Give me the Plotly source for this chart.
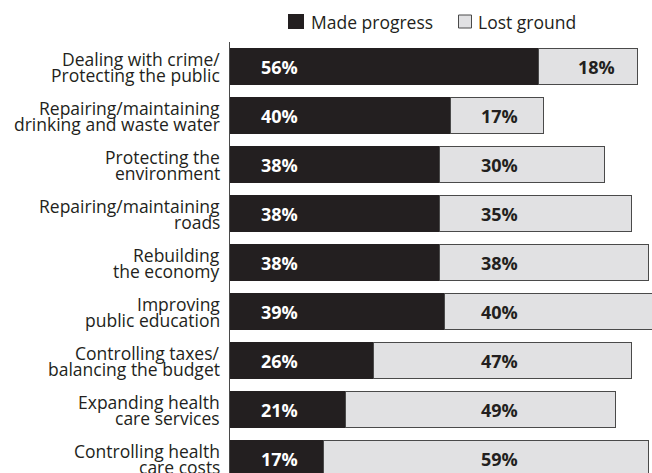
import plotly.graph_objects as go

# Survey results: share saying the state "made progress" vs "lost ground"
categories = [
    "Dealing with crime/<br>Protecting the public",
    "Repairing/maintaining<br>drinking and waste water",
    "Protecting the<br>environment",
    "Repairing/maintaining<br>roads",
    "Rebuilding<br>the economy",
    "Improving<br>public education",
    "Controlling taxes/<br>balancing the budget",
    "Expanding health<br>care services",
    "Controlling health<br>care costs",
]
made_progress = [56, 40, 38, 38, 38, 39, 26, 21, 17]
lost_ground = [18, 17, 30, 35, 38, 40, 47, 49, 59]
series_names = ["Made progress", "Lost ground"]

W, H = 652, 473
ML, MT = 230, 42
PX_PER_PCT = 5.5
ROW_PX = 49

DARK = "#231f20"
LIGHT = "#e1e1e3"
EDGE = "#4a4a4a"
FONT = "Open Sans"

x_max = (W - ML) / PX_PER_PCT
y_bottom = -0.5 + (H - MT) / ROW_PX

fig = go.Figure()
fig.add_trace(go.Bar(
    y=categories, x=made_progress, orientation="h", name=series_names[0],
    marker=dict(color=DARK, line=dict(width=0)), showlegend=False,
))
fig.add_trace(go.Bar(
    y=categories, x=lost_ground, orientation="h", name=series_names[1],
    marker=dict(color=LIGHT, line=dict(color=EDGE, width=1)), showlegend=False,
))

annotations = []
# category labels, one annotation per line so the lines sit close together
for cat in categories:
    lines = cat.split("<br>")
    for i, line in enumerate(lines):
        shift = 8 if i == 0 else -8
        annotations.append(dict(
            x=0, y=cat, xref="paper", yref="y", text=line, showarrow=False,
            xanchor="right", yanchor="middle", xshift=-8, yshift=shift,
            font=dict(family=FONT, size=17.5, color=DARK),
        ))

# value labels inside the bars
for cat, mp, lg in zip(categories, made_progress, lost_ground):
    annotations.append(dict(
        x=5.2, y=cat, xref="x", yref="y", text=f"{mp}%", showarrow=False,
        xanchor="left", yanchor="middle",
        font=dict(family=FONT, size=18, color="white", weight="bold"),
    ))
    if mp >= 45:
        gx, anchor = mp + lg - 3.6, "right"
    else:
        gx, anchor = 45.2, "left"
    annotations.append(dict(
        x=gx, y=cat, xref="x", yref="y", text=f"{lg}%", showarrow=False,
        xanchor=anchor, yanchor="middle",
        font=dict(family=FONT, size=18, color=DARK, weight="bold"),
    ))

# legend drawn as swatches + text
pw = W - ML
def px(xp):
    return (xp - ML) / pw
def py(yp):
    return 1 - (yp - MT) / (H - MT)

shapes = [
    dict(type="rect", xref="paper", yref="paper", x0=px(288), x1=px(304),
         y0=py(29), y1=py(14), fillcolor=DARK, line=dict(width=0)),
    dict(type="rect", xref="paper", yref="paper", x0=px(458.5), x1=px(471.5),
         y0=py(28), y1=py(15), fillcolor=LIGHT, line=dict(color=EDGE, width=1)),
]
annotations += [
    dict(x=px(309), y=py(21.5), xref="paper", yref="paper", text=series_names[0],
         showarrow=False, xanchor="left", yanchor="middle",
         font=dict(family=FONT, size=17.5, color=DARK)),
    dict(x=px(476), y=py(21.5), xref="paper", yref="paper", text=series_names[1],
         showarrow=False, xanchor="left", yanchor="middle",
         font=dict(family=FONT, size=17.5, color=DARK)),
]

fig.update_layout(
    width=W, height=H, barmode="stack", bargap=0.265,
    margin=dict(l=ML, r=0, t=MT, b=0, pad=0),
    paper_bgcolor="white", plot_bgcolor="white",
    xaxis=dict(range=[0, x_max], visible=False, fixedrange=True),
    yaxis=dict(range=[y_bottom, -0.5], showticklabels=False, ticks="",
               showgrid=False, zeroline=False, showline=True,
               linecolor=EDGE, linewidth=1),
    annotations=annotations, shapes=shapes, showlegend=False,
)

fig.write_html("out.html", config={"displayModeBar": False})
